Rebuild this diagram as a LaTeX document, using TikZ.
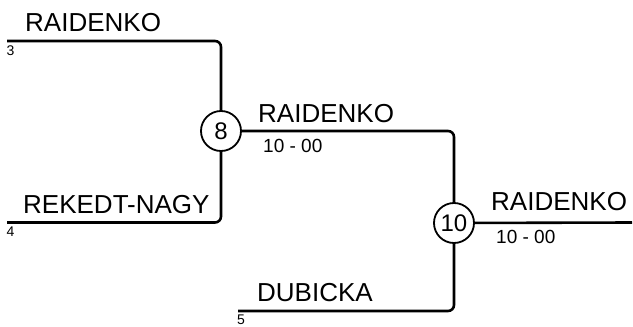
\documentclass[tikz,border=0pt]{standalone}
\usepackage{fontspec}
\setmainfont{Liberation Sans}
\tikzset{
  bracket/.style={line width=2.6pt,rounded corners=6pt},
  seed/.style={circle,draw,line width=1.8pt,minimum size=40pt,inner sep=0pt,font=\fontsize{24}{26}\selectfont},
  player/.style={anchor=base west,inner sep=0pt,font=\fontsize{26}{28}\selectfont},
  score/.style={anchor=base west,inner sep=0pt,font=\fontsize{19}{21}\selectfont},
  slot/.style={anchor=base west,inner sep=0pt,text depth=0pt,font=\fontsize{14}{15}\selectfont}
}
\begin{document}
\begin{tikzpicture}[x=1pt,y=-1pt]
\useasboundingbox (0,0) rectangle (633,327);
% match nodes
\node[seed] (m8) at (221,131) {8};
\node[seed] (m10) at (454,223) {10};
% line ends
\coordinate (p3) at (7,41);
\coordinate (p4) at (7,222.5);
\coordinate (p5) at (238,311);
\coordinate (win) at (632,222.5);
\draw[bracket] (p3) -| (m8);
\draw[bracket] (p4) -| (m8);
\draw[bracket] (m8) -| (m10);
\draw[bracket] (p5) -| (m10);
\draw[bracket] (m10) -- (win);
% names
\node[player] (n3) at (25,31) {RAIDENKO};
\node[player] (n4) at (23,213) {REKEDT-NAGY};
\node[player] (n5) at (257,301.5) {DUBICKA};
\node[player] (n8) at (258,122) {RAIDENKO};
\node[player] (n10) at (491,210) {RAIDENKO};
% scores and slots
\node[score] (r8) at (263,152.7) {10 - 00};
\node[score] (r10) at (496,243.7) {10 - 00};
\node[slot] (s3) at (6.5,55.5) {3};
\node[slot] (s4) at (6.5,236.5) {4};
\node[slot] (s5) at (237,324) {5};
\end{tikzpicture}
\end{document}
